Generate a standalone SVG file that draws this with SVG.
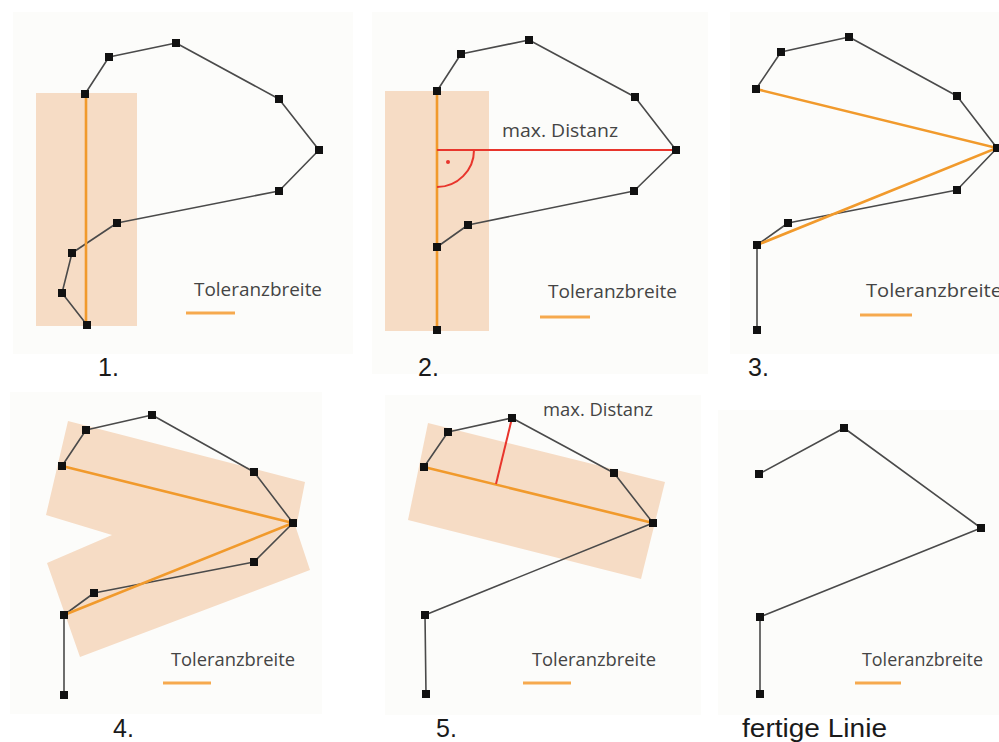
<svg xmlns="http://www.w3.org/2000/svg" width="999" height="742" viewBox="0 0 999 742">
  <defs>
    <style>
      .bg { fill: #fcfcfa; }
      .band { fill: #f6dcc5; }
      .path { fill: none; stroke: #4a4a4a; stroke-width: 1.6; stroke-linejoin: round; }
      .fit { fill: none; stroke: #f19a2c; stroke-width: 2.6; stroke-linecap: round; }
      .legend { stroke: #f6a94e; stroke-width: 3; }
      .dist { fill: none; stroke: #e8352c; stroke-width: 2; }
      .v { fill: #111; }
      .lbl { font-family: "Open Sans", "Noto Sans", sans-serif; font-size: 17.5px; fill: #444; }
      .num { font-family: "Liberation Sans", Arial, sans-serif; font-size: 25px; fill: #1a1a1a; }
    </style>
  </defs>

  <rect width="999" height="742" fill="#ffffff"/>

  <!-- Step 1: first tolerance band along start-end chord -->
  <g id="step1">
    <rect class="bg" x="13" y="12" width="340" height="342"/>
    <rect class="band" x="36" y="93" width="101" height="233"/>
    <g id="step1-connectors">
      <polyline class="path" points="85,94 109,57 176,43 279,99 319,150 279,191 117,223 72,253 62,293 87,325"/>
      <line class="fit" x1="86" y1="94" x2="86" y2="325"/>
    </g>
    <g id="step1-nodes">
      <rect id="s1n1" class="v" x="81" y="90" width="8" height="8"/>
      <rect id="s1n2" class="v" x="105" y="53" width="8" height="8"/>
      <rect id="s1n3" class="v" x="172" y="39" width="8" height="8"/>
      <rect id="s1n4" class="v" x="275" y="95" width="8" height="8"/>
      <rect id="s1n5" class="v" x="315" y="146" width="8" height="8"/>
      <rect id="s1n6" class="v" x="275" y="187" width="8" height="8"/>
      <rect id="s1n7" class="v" x="113" y="219" width="8" height="8"/>
      <rect id="s1n8" class="v" x="68" y="249" width="8" height="8"/>
      <rect id="s1n9" class="v" x="58" y="289" width="8" height="8"/>
      <rect id="s1n10" class="v" x="83" y="321" width="8" height="8"/>
    </g>
    <text class="lbl" x="194" y="296" textLength="128" lengthAdjust="spacingAndGlyphs">Toleranzbreite</text>
    <line class="legend" x1="186" y1="313" x2="235" y2="313"/>
    <text class="num" x="98" y="376">1.</text>
  </g>

  <!-- Step 2: farthest vertex from the chord -->
  <g id="step2">
    <rect class="bg" x="372" y="12" width="336" height="362"/>
    <rect class="band" x="385" y="91" width="104" height="240"/>
    <g id="step2-connectors">
      <polyline class="path" points="437,91 461,54 529,40 635,97 676,150 634,191 468,225 437,247 437,330"/>
      <line class="fit" x1="437" y1="91" x2="437" y2="330"/>
      <line class="dist" x1="437" y1="150" x2="676" y2="150"/>
      <path class="dist" stroke-width="1.6" d="M474 150 A37 37 0 0 1 437 187"/>
      <circle cx="448" cy="162" r="2" fill="#e8352c"/>
    </g>
    <g id="step2-nodes">
      <rect id="s2n1" class="v" x="433" y="87" width="8" height="8"/>
      <rect id="s2n2" class="v" x="457" y="50" width="8" height="8"/>
      <rect id="s2n3" class="v" x="525" y="36" width="8" height="8"/>
      <rect id="s2n4" class="v" x="631" y="93" width="8" height="8"/>
      <rect id="s2n5" class="v" x="672" y="146" width="8" height="8"/>
      <rect id="s2n6" class="v" x="630" y="187" width="8" height="8"/>
      <rect id="s2n7" class="v" x="464" y="221" width="8" height="8"/>
      <rect id="s2n8" class="v" x="433" y="243" width="8" height="8"/>
      <rect id="s2n9" class="v" x="433" y="326" width="8" height="8"/>
    </g>
    <text class="lbl" x="502" y="137" textLength="116" lengthAdjust="spacingAndGlyphs">max. Distanz</text>
    <text class="lbl" x="548" y="298" textLength="129" lengthAdjust="spacingAndGlyphs">Toleranzbreite</text>
    <line class="legend" x1="540" y1="317" x2="590" y2="317"/>
    <text class="num" x="418" y="376">2.</text>
  </g>

  <!-- Step 3: split into two chords at the farthest vertex -->
  <g id="step3">
    <rect class="bg" x="730" y="12" width="269" height="342"/>
    <g id="step3-connectors">
      <polyline class="path" points="756,89 781,52 849,37 957,96 997,148 957,190 788,223 757,245 757,330"/>
      <polyline class="fit" points="756,89 997,148 757,245"/>
    </g>
    <g id="step3-nodes">
      <rect id="s3n1" class="v" x="752" y="85" width="8" height="8"/>
      <rect id="s3n2" class="v" x="777" y="48" width="8" height="8"/>
      <rect id="s3n3" class="v" x="845" y="33" width="8" height="8"/>
      <rect id="s3n4" class="v" x="953" y="92" width="8" height="8"/>
      <rect id="s3n5" class="v" x="993" y="144" width="8" height="8"/>
      <rect id="s3n6" class="v" x="953" y="186" width="8" height="8"/>
      <rect id="s3n7" class="v" x="784" y="219" width="8" height="8"/>
      <rect id="s3n8" class="v" x="753" y="241" width="8" height="8"/>
      <rect id="s3n9" class="v" x="753" y="326" width="8" height="8"/>
    </g>
    <text class="lbl" x="866" y="297" textLength="136" lengthAdjust="spacingAndGlyphs">Toleranzbreite</text>
    <line class="legend" x1="860" y1="315" x2="912" y2="315"/>
    <text class="num" x="748" y="376">3.</text>
  </g>

  <!-- Step 4: tolerance bands around both chords -->
  <g id="step4">
    <rect class="bg" x="10" y="392" width="312" height="322"/>
    <polygon class="band" points="68,421 305,482 296,528 310,570 80,657 47,563 112,535 46,515"/>
    <g id="step4-connectors">
      <polyline class="path" points="62,466 86,430 152,415 254,472 293,523 254,562 94,593 64,615 64,695"/>
      <polyline class="fit" points="62,466 293,523 64,615"/>
    </g>
    <g id="step4-nodes">
      <rect id="s4n1" class="v" x="58" y="462" width="8" height="8"/>
      <rect id="s4n2" class="v" x="82" y="426" width="8" height="8"/>
      <rect id="s4n3" class="v" x="148" y="411" width="8" height="8"/>
      <rect id="s4n4" class="v" x="250" y="468" width="8" height="8"/>
      <rect id="s4n5" class="v" x="289" y="519" width="8" height="8"/>
      <rect id="s4n6" class="v" x="250" y="558" width="8" height="8"/>
      <rect id="s4n7" class="v" x="90" y="589" width="8" height="8"/>
      <rect id="s4n8" class="v" x="60" y="611" width="8" height="8"/>
      <rect id="s4n9" class="v" x="60" y="691" width="8" height="8"/>
    </g>
    <text class="lbl" x="171" y="666" textLength="124" lengthAdjust="spacingAndGlyphs">Toleranzbreite</text>
    <line class="legend" x1="163" y1="683" x2="211" y2="683"/>
    <text class="num" x="113" y="737">4.</text>
  </g>

  <!-- Step 5: farthest vertex inside the upper band -->
  <g id="step5">
    <rect class="bg" x="385" y="395" width="316" height="320"/>
    <polygon class="band" points="428,423 665,482 641,579 408,520"/>
    <g id="step5-connectors">
      <polyline class="path" points="424,467 448,432 512,418 614,473 653,523 425,615 426,694"/>
      <line class="fit" x1="424" y1="467" x2="653" y2="523"/>
      <line class="dist" x1="512" y1="418" x2="496" y2="484"/>
    </g>
    <g id="step5-nodes">
      <rect id="s5n1" class="v" x="420" y="463" width="8" height="8"/>
      <rect id="s5n2" class="v" x="444" y="428" width="8" height="8"/>
      <rect id="s5n3" class="v" x="508" y="414" width="8" height="8"/>
      <rect id="s5n4" class="v" x="610" y="469" width="8" height="8"/>
      <rect id="s5n5" class="v" x="649" y="519" width="8" height="8"/>
      <rect id="s5n6" class="v" x="421" y="611" width="8" height="8"/>
      <rect id="s5n7" class="v" x="422" y="690" width="8" height="8"/>
    </g>
    <text class="lbl" x="543" y="416" textLength="110" lengthAdjust="spacingAndGlyphs">max. Distanz</text>
    <text class="lbl" x="532" y="666" textLength="124" lengthAdjust="spacingAndGlyphs">Toleranzbreite</text>
    <line class="legend" x1="523" y1="683" x2="571" y2="683"/>
    <text class="num" x="436" y="737">5.</text>
  </g>

  <!-- Result: simplified line -->
  <g id="result">
    <rect class="bg" x="718" y="410" width="281" height="305"/>
    <g id="result-connectors">
      <polyline class="path" points="759,474 844,428 981,528 760,617 760,694"/>
    </g>
    <g id="result-nodes">
      <rect id="rn1" class="v" x="755" y="470" width="8" height="8"/>
      <rect id="rn2" class="v" x="840" y="424" width="8" height="8"/>
      <rect id="rn3" class="v" x="977" y="524" width="8" height="8"/>
      <rect id="rn4" class="v" x="756" y="613" width="8" height="8"/>
      <rect id="rn5" class="v" x="756" y="690" width="8" height="8"/>
    </g>
    <text class="lbl" x="862" y="666" textLength="121" lengthAdjust="spacingAndGlyphs">Toleranzbreite</text>
    <line class="legend" x1="855" y1="683" x2="901" y2="683"/>
    <text class="num" x="742" y="737" font-size="27" textLength="145" lengthAdjust="spacingAndGlyphs">fertige Linie</text>
  </g>
</svg>
